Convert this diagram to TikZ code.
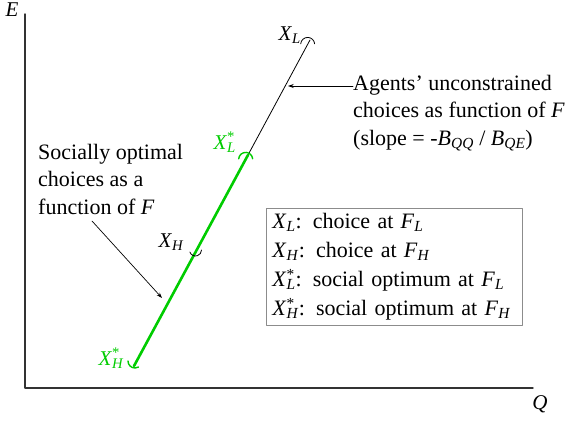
\documentclass[tikz,border=0pt]{standalone}
\usepackage{fontspec}
\setmainfont{Liberation Serif}
\usetikzlibrary{arrows.meta,positioning}
\definecolor{optgreen}{HTML}{00CC00}
\definecolor{boxgray}{HTML}{8C8C8C}
\definecolor{axis}{HTML}{333333}

\newcommand{\xsub}[1]{\textit{X}\textsubscript{\textit{#1}}}
\newcommand{\xopt}[1]{\textit{X}\rlap{\textsuperscript{*}}\textsubscript{\textit{#1}}}
\newcommand{\fsub}[1]{\textit{F}\textsubscript{\textit{#1}}}

\begin{document}
\begin{tikzpicture}[x=1pt,y=1pt,line cap=round,line join=round,
  txt/.style={font=\fontsize{22}{27.5}\selectfont,inner sep=0pt,align=left},
  ptlabel/.style={font=\fontsize{21}{24}\selectfont,inner sep=0pt},
  tick/.style={line width=0.8pt},
  note/.style={line width=0.7pt,-{Stealth[length=2mm,width=1.4mm]}}]
  \useasboundingbox (0,0) rectangle (573,421);
  % axes
  \coordinate (origin) at (25,33);
  \coordinate (etop) at (25,407);
  \coordinate (qend) at (533,33);
  \draw[axis,line width=1.4pt] (etop) -- (origin) -- (qend);
  \node[ptlabel] (elbl) at (12,411) {\textit{E}};
  \node[ptlabel] (qlbl) at (540,17) {\textit{Q}};
  % the choice line
  \coordinate (xl) at (310,381);
  \coordinate (xlopt) at (248,266);
  \coordinate (xh) at (194.5,167);
  \coordinate (xhopt) at (134,55);
  \draw[line width=0.8pt] (xl) -- (xlopt);
  \draw[optgreen,line width=2.6pt] (xlopt) -- (xhopt);
  % ticks
  \draw[tick] ([shift={(242:5)}]xl) ++(175:7) arc[start angle=175,end angle=5,radius=7];
  \draw[tick,optgreen,line width=1.4pt] ([shift={(242:5)}]xlopt) ++(175:7) arc[start angle=175,end angle=5,radius=7];
  \draw[tick] ([shift={(1,4)}]xh) ++(200:6) arc[start angle=200,end angle=360,radius=6];
  \draw[tick,optgreen,line width=1.4pt] ([shift={(1,5)}]xhopt) ++(180:7) arc[start angle=180,end angle=300,radius=7];
  % point labels
  \node[ptlabel,anchor=east] (xllbl) at (301,386) {\xsub{L}};
  \node[ptlabel,anchor=east,text=optgreen] (xloptlbl) at (236,279) {\xopt{L}};
  \node[ptlabel,anchor=east] (xhlbl) at (184,179) {\xsub{H}};
  \node[ptlabel,anchor=east,text=optgreen] (xhoptlbl) at (124,63) {\xopt{H}};
  % annotations
  \node[txt,anchor=west] (agents) at (353,308) {Agents’ unconstrained\\
    choices as function of \textit{F}\\
    (slope = -\textit{B}\textsubscript{\textit{QQ}} / \textit{B}\textsubscript{\textit{QE}})};
  \coordinate (agentstip) at (288,335);
  \draw[note] (agentstip -| agents.west) -- (agentstip);
  \node[txt,anchor=west] (social) at (38,242) {Socially optimal\\
    choices as a\\
    function of \textit{F}};
  \coordinate (socialtail) at (92,200);
  \coordinate (socialtip) at (162,123);
  \draw[note] (socialtail) -- (socialtip);
  % legend
  \node[txt,draw=boxgray,line width=0.9pt,anchor=north west,inner xsep=6pt,inner ysep=5pt,
    text width=244pt,font=\fontsize{22}{29}\selectfont] (legend) at (266,213)
    {\xsub{L}: choice at \fsub{L}\\
     \xsub{H}: choice at \fsub{H}\\
     \xopt{L}: social optimum at \fsub{L}\\
     \xopt{H}: social optimum at \fsub{H}};
\end{tikzpicture}
\end{document}
